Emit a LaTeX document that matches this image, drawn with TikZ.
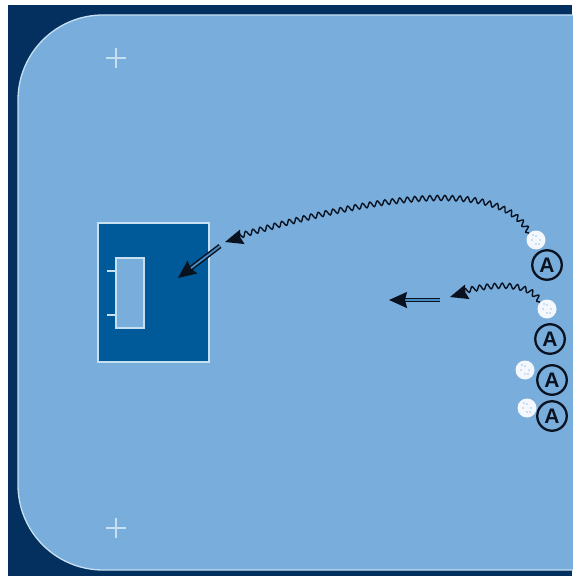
\documentclass[tikz,border=0pt]{standalone}
\usepackage{fontspec}
\setmainfont{Liberation Sans}
\usetikzlibrary{decorations.pathmorphing,arrows.meta}
\definecolor{rinkbg}{HTML}{03305E}
\definecolor{field}{HTML}{78ADDC}
\definecolor{zone}{HTML}{005A9A}
\definecolor{lineW}{HTML}{C6E0F2}
\definecolor{ink}{HTML}{0A1220}
\tikzset{
  x=1pt,y=-1pt,
  player/.style={circle,draw=ink,line width=2.3pt,fill=none,minimum size=29.5pt,inner sep=0pt,font=\fontsize{21}{21}\selectfont\bfseries,text=ink},
  ball/.style={circle,fill=white!92!field,minimum size=19pt,inner sep=0pt,
    path picture={
      \foreach \dx/\dy in {0/-4,-4/0,4/0,0/4,-3/5,3/-4}
        \fill[field!70!white] ([xshift=\dx pt,yshift=\dy pt]path picture bounding box.center) circle (0.9pt);
    }},
  dribble/.style={ink,line width=1.4pt,decorate,decoration={snake,amplitude=2.6pt,segment length=7.5pt,post length=10pt,pre length=0pt},
    -{Stealth[length=18pt,width=15pt,inset=2pt]}},
  run/.style={ink,line width=1.5pt,double=field!60!zone,double distance=1.8pt,-{Stealth[length=18pt,width=16pt,inset=2pt]}},
}
\begin{document}
\begin{tikzpicture}
\useasboundingbox (0,0) rectangle (572,577);
\fill[white] (0,0) rectangle (572,577);
\fill[rinkbg] (8,5) rectangle (572,575.5);
\draw[draw=lineW,line width=1.3pt,fill=field] (573,15) -- (103,15) arc[start angle=270,end angle=180,radius=85] -- (18,485) arc[start angle=180,end angle=90,radius=85] -- (573,570);
\draw[lineW,line width=1.3pt] (106,58) -- (126,58) (116,48) -- (116,68);
\draw[lineW,line width=1.3pt] (106,528) -- (126,528) (116,518) -- (116,538);
\node[draw=lineW,line width=1.3pt,fill=zone,minimum width=111pt,minimum height=139pt,inner sep=0pt] (zone) at (153.5,292.5) {};
\node[draw=lineW,line width=1.5pt,fill=field,minimum width=28pt,minimum height=70pt,inner sep=0pt] (goal) at (130,293) {};
\coordinate (t1) at (107,271);
\coordinate (t2) at (107,315);
\draw[lineW,line width=1.3pt] (t1) -- (t1 -| goal.west);
\draw[lineW,line width=1.3pt] (t2) -- (t2 -| goal.west);
\node[ball] (b1) at (536,240) {};
\node[ball] (b2) at (547,309) {};
\node[ball] (b3) at (525,370) {};
\node[ball] (b4) at (527,408) {};
\node[player] (a1) at (547,265) {A};
\node[player] (a2) at (550,339) {A};
\node[player] (a3) at (552,380) {A};
\node[player] (a4) at (552,416) {A};
\coordinate (d1) at (225,242);
\coordinate (d2) at (450,297);
\coordinate (r1s) at (220,246);
\coordinate (r1e) at (178,278);
\coordinate (r2s) at (440,300);
\coordinate (r2e) at (389,300);
\draw[dribble] (b1.north west) .. controls (500,178) and (370,198) .. (d1);
\draw[dribble] (b2.north west) .. controls (530,283) and (490,284) .. (d2);
\draw[run] (r1s) -- (r1e);
\draw[run] (r2s) -- (r2e);
\end{tikzpicture}
\end{document}
